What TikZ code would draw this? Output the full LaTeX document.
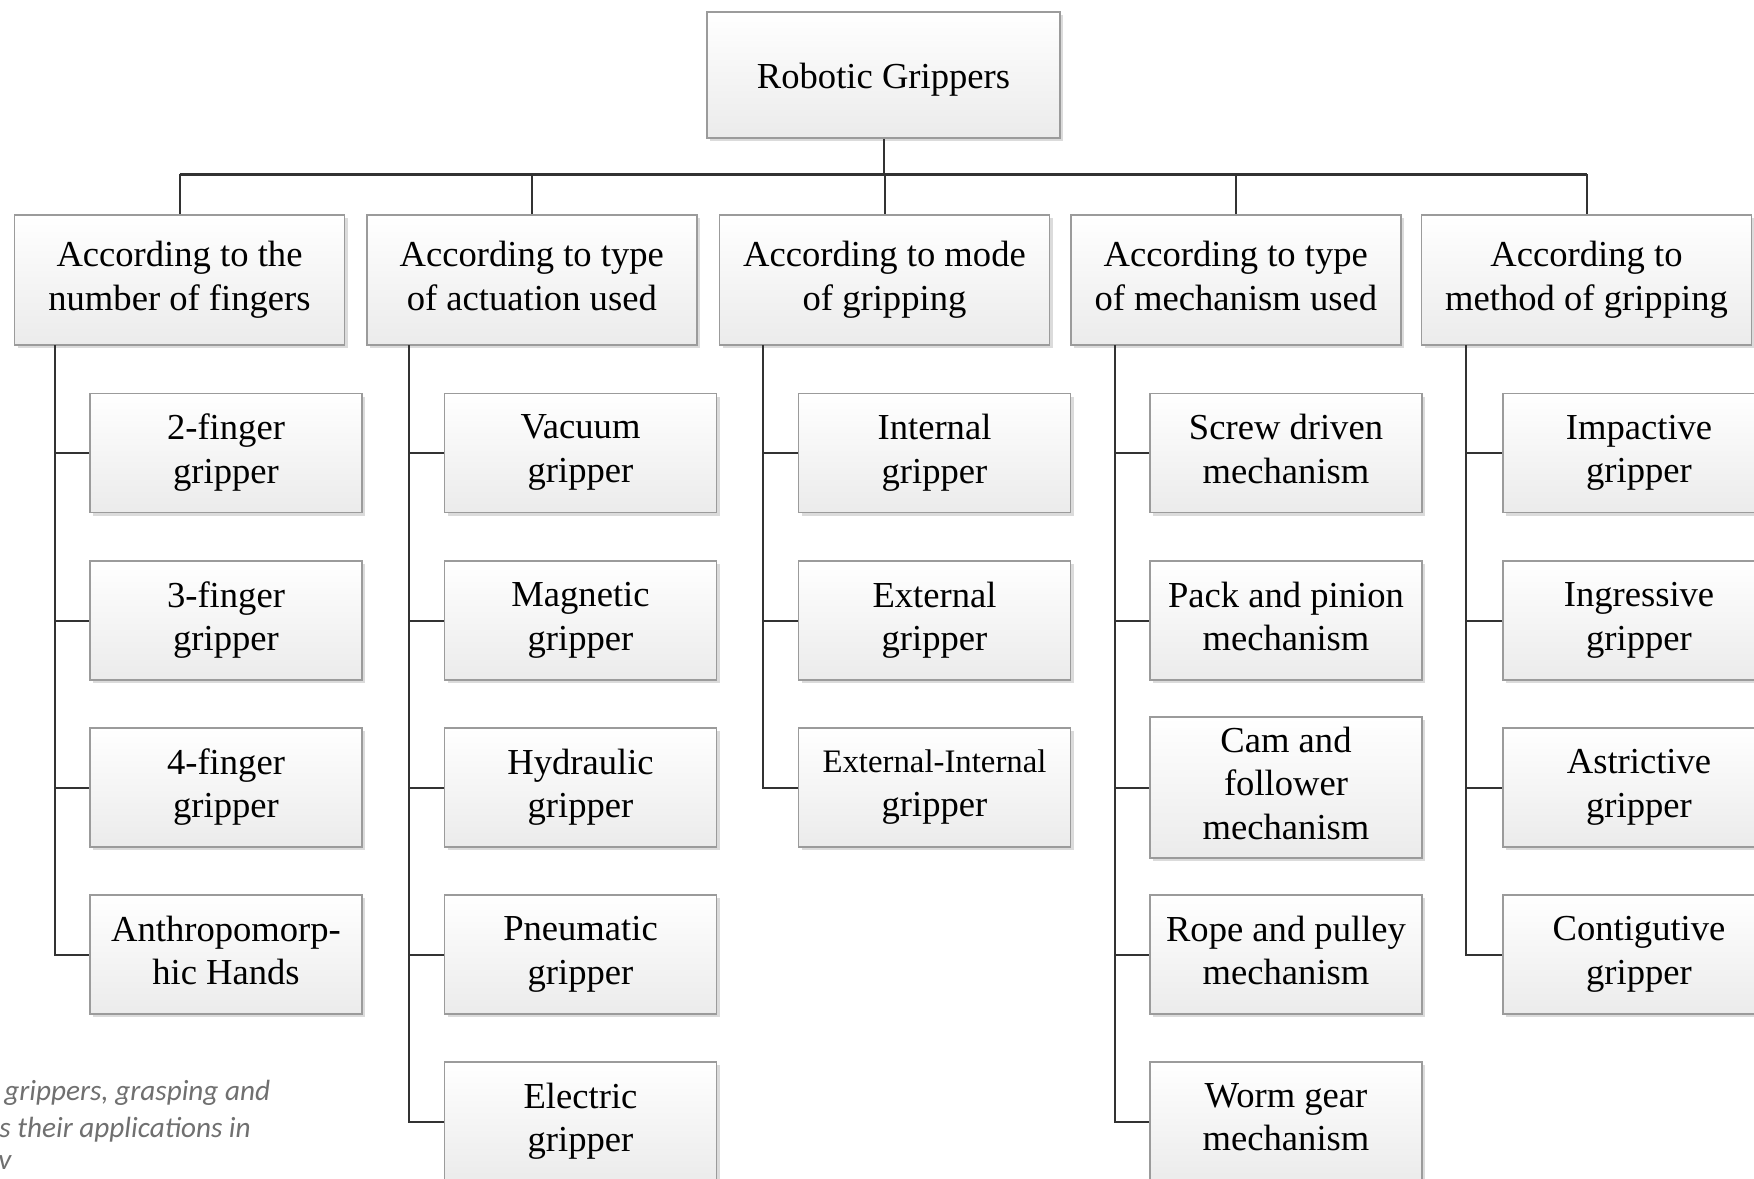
\documentclass[tikz,border=0pt]{standalone}
\usepackage{fontspec}
\setmainfont{Liberation Serif}
\newfontfamily\capfont{Carlito}
\usetikzlibrary{shadows}
\definecolor{boxline}{RGB}{155,155,155}
\definecolor{boxbot}{RGB}{235,235,235}
\definecolor{conncol}{RGB}{50,50,50}
\definecolor{captext}{RGB}{112,112,112}
\newcommand\gtopstrut{\rule{0pt}{17.4pt}}
\newcommand\gbotstrut{\rule[-4.3pt]{0pt}{4.3pt}}
\begin{document}
\begin{tikzpicture}[x=0.5pt,y=-0.5pt,
  gbox/.style={draw=boxline, line width=0.9pt, top color=white, bottom color=boxbot,
    align=center, inner sep=0pt, font=\fontsize{18.3}{21.7}\selectfont,
    execute at begin node=\gtopstrut, execute at end node=\gbotstrut,
    drop shadow={shadow xshift=1.5pt, shadow yshift=-1.5pt, opacity=0.14, fill=black}},
  rootbox/.style={gbox, minimum width=176.5pt, minimum height=63pt},
  catbox/.style={gbox, minimum width=165pt, minimum height=65pt},
  leafbox/.style={gbox, minimum width=136pt, minimum height=59.5pt},
  tallbox/.style={gbox, minimum width=136pt, minimum height=70.5pt},
  conn/.style={draw=conncol, line width=1pt},
  busline/.style={draw=conncol, line width=1.5pt},
  captxt/.style={anchor=base west, inner sep=0pt, text=captext,
    font=\capfont\itshape\fontsize{14.6}{17}\selectfont}
]
\clip (0,0) rectangle (1754,1178);
\fill[white] (0,0) rectangle (1754,1178);

% root and categories
\node[rootbox] (root) at (883.5,75) {Robotic Grippers};
\node[catbox] (c1) at (179.5,280) {According to the\\number of fingers};
\node[catbox] (c2) at (531.8,280) {According to type\\of actuation used};
\node[catbox] (c3) at (884.5,280) {According to mode\\of gripping};
\node[catbox] (c4) at (1235.8,280) {According to type\\of mechanism used};
\node[catbox] (c5) at (1586.5,280) {According to\\method of gripping};

% column 1
\node[leafbox] (a1) at (226,453) {2-finger\\gripper};
\node[leafbox] (a2) at (226,620.5) {3-finger\\gripper};
\node[leafbox] (a3) at (226,787.5) {4-finger\\gripper};
\node[leafbox] (a4) at (226,954.5) {Anthropomorp-\\hic Hands};
% column 2
\node[leafbox] (b1) at (580.5,453) {Vacuum\\gripper};
\node[leafbox] (b2) at (580.5,620.5) {Magnetic\\gripper};
\node[leafbox] (b3) at (580.5,787.5) {Hydraulic\\gripper};
\node[leafbox] (b4) at (580.5,954.5) {Pneumatic\\gripper};
\node[leafbox] (b5) at (580.5,1121.5) {Electric\\gripper};
% column 3
\node[leafbox] (d1) at (934.5,453) {Internal\\gripper};
\node[leafbox] (d2) at (934.5,620.5) {External\\gripper};
\node[leafbox] (d3) at (934.5,787.5) {{\fontsize{16.4}{21.7}\selectfont External-Internal}\\gripper};
% column 4
\node[leafbox] (e1) at (1286,453) {Screw driven\\mechanism};
\node[leafbox] (e2) at (1286,620.5) {Pack and pinion\\mechanism};
\node[tallbox] (e3) at (1286,787.5) {Cam and\\follower\\mechanism};
\node[leafbox] (e4) at (1286,954.5) {Rope and pulley\\mechanism};
\node[leafbox] (e5) at (1286,1121.5) {Worm gear\\mechanism};
% column 5
\node[leafbox] (f1) at (1639,453) {Impactive\\gripper};
\node[leafbox] (f2) at (1639,620.5) {Ingressive\\gripper};
\node[leafbox] (f3) at (1639,787.5) {Astrictive\\gripper};
\node[leafbox] (f4) at (1639,954.5) {Contigutive\\gripper};

% bus
\coordinate (bus) at (0,174);
\draw[conn] (root.south) -- (root.south |- bus);
\draw[busline] (c1.north |- bus) -- (c5.north |- bus);
\foreach \i in {1,...,5} \draw[conn] (c\i.north |- bus) -- (c\i.north);

% trunks
\coordinate (t1) at (54.5,345);
\coordinate (t2) at (409,345);
\coordinate (t3) at (762.5,345);
\coordinate (t4) at (1114.5,345);
\coordinate (t5) at (1465.5,345);
\foreach \n in {a1,a2,a3,a4} \draw[conn] (t1) |- (\n.west);
\foreach \n in {b1,b2,b3,b4,b5} \draw[conn] (t2) |- (\n.west);
\foreach \n in {d1,d2,d3} \draw[conn] (t3) |- (\n.west);
\foreach \n in {e1,e2,e3,e4,e5} \draw[conn] (t4) |- (\n.west);
\foreach \n in {f1,f2,f3,f4} \draw[conn] (t5) |- (\n.west);

% caption fragment
\node[captxt] (cap1) at (4,1100) {grippers, grasping and};
\node[captxt] (cap2) at (-1,1137) {s their applications in};
\node[captxt] (cap3) at (-2,1169) {v};
\end{tikzpicture}
\end{document}
